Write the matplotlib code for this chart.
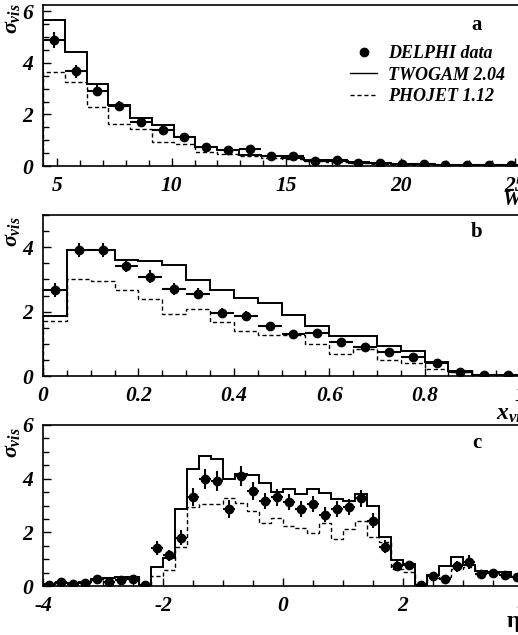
import numpy as np
import matplotlib
matplotlib.use("Agg")
import matplotlib.pyplot as plt
from matplotlib.lines import Line2D
from matplotlib.ticker import MultipleLocator

# ---- panel a: W distribution ----
w_edges = [4.38, 5.33, 6.28, 7.23, 8.18, 9.13, 10.08, 11.03, 11.98, 12.93, 13.88,
           14.83, 15.78, 16.73, 17.68, 18.63, 19.58, 20.53, 21.48, 22.43, 23.38,
           24.33, 25.28]
w_twogam = [5.66, 4.43, 3.17, 2.36, 1.88, 1.58, 1.13, 0.74, 0.63, 0.41, 0.38,
            0.30, 0.25, 0.20, 0.15, 0.12, 0.08, 0.06, 0.05, 0.04, 0.03, 0.03]
w_phojet = [3.65, 3.26, 2.29, 1.64, 1.45, 0.93, 0.84, 0.54, 0.48, 0.40, 0.30,
            0.26, 0.18, 0.15, 0.10, 0.08, 0.05, 0.04, 0.03, 0.02, 0.02, 0.02]
w_data = [4.89, 3.68, 2.93, 2.34, 1.70, 1.41, 1.12, 0.74, 0.61, 0.65, 0.39,
          0.40, 0.20, 0.25, 0.12, 0.13, 0.09, 0.06, 0.05, 0.05, 0.05, 0.04]
w_err = [0.30, 0.25, 0.20, 0.17, 0.15, 0.13, 0.11, 0.09, 0.08, 0.08, 0.07,
         0.07, 0.05, 0.05, 0.04, 0.04, 0.03, 0.03, 0.03, 0.03, 0.03, 0.03]

# ---- panel b: x_vis distribution ----
x_edges = [0.0, 0.05, 0.10, 0.15, 0.20, 0.25, 0.30, 0.35, 0.40, 0.45, 0.50,
           0.55, 0.60, 0.65, 0.70, 0.75, 0.80, 0.85, 0.90, 0.95, 1.00]
x_twogam = [1.85, 3.92, 3.92, 3.61, 3.56, 3.45, 2.99, 2.68, 2.42, 2.26, 1.88,
            1.54, 1.23, 1.23, 0.93, 0.78, 0.43, 0.14, 0.02, 0.01]
x_phojet = [1.70, 3.00, 2.94, 2.68, 2.38, 1.93, 2.09, 1.68, 1.39, 1.26, 1.26,
            1.00, 0.67, 0.85, 0.51, 0.40, 0.23, 0.12, 0.01, 0.01]
x_data = [2.66, 3.92, 3.92, 3.43, 3.09, 2.71, 2.55, 1.95, 1.86, 1.54, 1.29,
          1.34, 1.05, 0.90, 0.74, 0.59, 0.40, 0.12, 0.02, 0.02]
x_err = [0.22, 0.22, 0.22, 0.20, 0.20, 0.18, 0.17, 0.15, 0.15, 0.13, 0.12,
         0.12, 0.10, 0.10, 0.09, 0.08, 0.07, 0.05, 0.02, 0.02]

# ---- panel c: eta distribution ----
eta_edges = [-4.0, -3.8, -3.6, -3.4, -3.2, -3.0, -2.8, -2.6, -2.4, -2.2, -2.0,
             -1.8, -1.6, -1.4, -1.2, -1.0, -0.8, -0.6, -0.4, -0.2, 0.0,
             0.2, 0.4, 0.6, 0.8, 1.0, 1.2, 1.4, 1.6, 1.8, 2.0,
             2.2, 2.4, 2.6, 2.8, 3.0, 3.2, 3.4, 3.6, 3.8, 4.0]
eta_twogam = [0.08, 0.12, 0.10, 0.15, 0.25, 0.30, 0.35, 0.35, 0.02, 0.70,
              1.05, 2.87, 4.35, 4.84, 4.72, 4.00, 4.19, 4.12, 3.85, 3.52,
              3.60, 3.44, 3.60, 3.48, 3.23, 3.17, 3.42, 2.99, 1.82, 0.98,
              0.83, 0.00, 0.40, 0.73, 1.07, 0.80, 0.56, 0.53, 0.53, 0.35]
eta_phojet = [0.05, 0.10, 0.08, 0.12, 0.22, 0.28, 0.30, 0.30, 0.02, 0.36,
              0.58, 1.44, 2.95, 3.07, 3.05, 3.27, 3.11, 2.80, 2.33, 2.53,
              2.25, 2.16, 1.98, 2.33, 1.76, 2.13, 2.43, 1.84, 1.65, 0.64,
              0.52, 0.00, 0.30, 0.33, 0.64, 0.70, 0.47, 0.47, 0.40, 0.33]
eta_data = [0.05, 0.15, 0.09, 0.12, 0.27, 0.15, 0.23, 0.27, 0.05, 1.42,
            1.14, 1.79, 3.32, 3.98, 3.91, 2.87, 4.10, 3.54, 3.17, 3.30,
            3.14, 2.87, 3.05, 2.66, 2.87, 2.96, 3.27, 2.43, 1.47, 0.75,
            0.77, 0.04, 0.36, 0.26, 0.73, 0.89, 0.46, 0.48, 0.40, 0.35]
eta_err = [0.08, 0.10, 0.08, 0.10, 0.12, 0.10, 0.12, 0.12, 0.06, 0.25,
           0.22, 0.28, 0.35, 0.38, 0.38, 0.33, 0.38, 0.33, 0.30, 0.30,
           0.30, 0.28, 0.30, 0.28, 0.30, 0.30, 0.32, 0.28, 0.25, 0.18,
           0.18, 0.05, 0.15, 0.12, 0.22, 0.25, 0.15, 0.15, 0.12, 0.12]

W, H = 518, 635
SERIF = "Liberation Serif"
plt.rcParams["font.family"] = SERIF
plt.rcParams["axes.unicode_minus"] = False
plt.rcParams["mathtext.fontset"] = "custom"
plt.rcParams["mathtext.it"] = "Liberation Serif:italic:bold"
plt.rcParams["mathtext.rm"] = "Liberation Serif:bold"
plt.rcParams["mathtext.bf"] = "Liberation Serif:bold"

fig = plt.figure(figsize=(W / 100, H / 100), dpi=100)


def px_axes(top, bottom, left=43, right=540):
    # axes box given in pixels; it runs past the right edge of the page
    return fig.add_axes([left / W, 1 - bottom / H, (right - left) / W, (bottom - top) / H])


def draw_panel(ax, edges, mc1, mc2, data, err, xlim, ylim, xmin, ymin, xticks, yticks):
    edges = np.asarray(edges)
    centers = 0.5 * (edges[:-1] + edges[1:])
    half = 0.5 * np.diff(edges)
    ax.stairs(mc1, edges, baseline=0, color="black", lw=1.4)
    ax.stairs(mc2, edges, baseline=0, color="black", lw=1.0, linestyle=(0, (3, 2)))
    ax.errorbar(centers, data, yerr=err, xerr=half, fmt="o", ms=6, color="black",
                elinewidth=1.5, capsize=0, zorder=5)
    ax.set_xlim(*xlim)
    ax.set_ylim(*ylim)
    ax.set_xticks(xticks)
    ax.set_yticks(yticks)
    ax.xaxis.set_minor_locator(MultipleLocator(xmin))
    ax.yaxis.set_minor_locator(MultipleLocator(ymin))
    ax.tick_params(which="both", direction="in", top=False, right=False, width=1.0)
    ax.tick_params(which="major", length=6, pad=7)
    ax.tick_params(which="minor", length=4)
    for lab in ax.get_xticklabels() + ax.get_yticklabels():
        lab.set_fontsize(15.5)
        lab.set_fontweight("bold")
        lab.set_fontstyle("italic")
    for side in ("left", "bottom", "top", "right"):
        ax.spines[side].set_linewidth(1.2)


ax_a = px_axes(5, 166)
draw_panel(ax_a, w_edges, w_twogam, w_phojet, w_data, w_err,
           (4.38, 4.38 + 497 / 22.9), (0, 6.25), 1, 0.5,
           [5, 10, 15, 20, 25], [0, 2, 4, 6])

ax_b = px_axes(215, 376)
draw_panel(ax_b, x_edges, x_twogam, x_phojet, x_data, x_err,
           (0, 497 / 477), (0, 5), 0.05, 0.5,
           [0, 0.2, 0.4, 0.6, 0.8, 1.0], [0, 2, 4])
ax_b.set_xticklabels(["0", "0.2", "0.4", "0.6", "0.8", "1"],
                     fontsize=15.5, fontweight="bold", fontstyle="italic")

ax_c = px_axes(425, 586)
draw_panel(ax_c, eta_edges, eta_twogam, eta_phojet, eta_data, eta_err,
           (-4, -4 + 497 / 60), (0, 6), 0.5, 0.5,
           [-4, -2, 0, 2, 4], [0, 2, 4, 6])

# y titles, panel letters and the x titles at the right edge
for top in (3, 216, 427):
    fig.text(12 / W, 1 - top / H, r"$\sigma_{vis}$", rotation=90, ha="center", va="top",
             fontsize=16)
for letter, y in (("a", 25), ("b", 232), ("c", 443)):
    fig.text(477 / W, 1 - y / H, letter, ha="center", va="center", fontsize=15,
             fontweight="bold")
fig.text(503 / W, 1 - 200 / H, "W", ha="left", va="center", fontsize=15,
         fontweight="bold", style="italic")
fig.text(496 / W, 1 - 415 / H, r"$x_{vis}$", ha="left", va="center", fontsize=17)
fig.text(507 / W, 1 - 621 / H, "η", ha="left", va="center", fontsize=17, fontweight="bold")

handles = [
    Line2D([], [], marker="o", ms=6, color="black", linestyle="none"),
    Line2D([], [], color="black", lw=1.0),
    Line2D([], [], color="black", lw=1.0, linestyle=(0, (3, 2))),
]
leg = ax_a.legend(handles, ["DELPHI data", "TWOGAM 2.04", "PHOJET 1.12"],
                  loc="upper left", bbox_to_anchor=(350 / W, 1 - 45 / H),
                  bbox_transform=fig.transFigure, frameon=False, borderpad=0,
                  borderaxespad=0, handlelength=1.5, handletextpad=0.6,
                  labelspacing=0.25, prop={"family": SERIF, "size": 13,
                                           "weight": "bold", "style": "italic"})

fig.savefig("out.png", dpi=100)
